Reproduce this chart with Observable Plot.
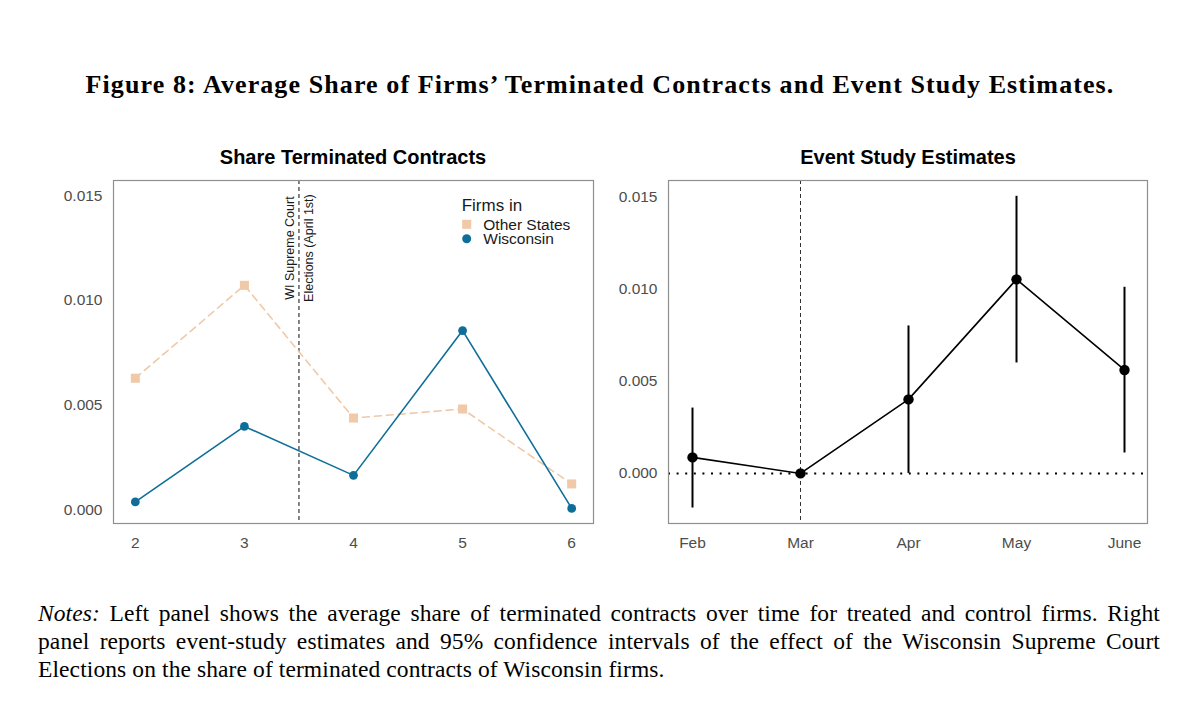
<!DOCTYPE html>
<html>
<head>
<meta charset="utf-8">
<script src="https://cdn.jsdelivr.net/npm/d3@7"></script>
<script src="https://cdn.jsdelivr.net/npm/@observablehq/plot@0.6"></script>
<style>
  body { margin: 0; background: #fff; }
  #page { position: relative; width: 1200px; height: 723px; overflow: hidden; background: #fff; }
  .fig-title { position: absolute; left: 0; top: 72px; width: 1200px; text-align: center;
    font-family: "Liberation Serif", serif; font-weight: bold; font-size: 26px; line-height: 26px;
    letter-spacing: 1.1px; white-space: nowrap; }
  .panel-title { position: absolute; top: 147px; width: 480px; text-align: center;
    font-family: "Liberation Sans", Arial, sans-serif; font-weight: bold; font-size: 20px; line-height: 20px; color: #000; }
  .panel { position: absolute; top: 130px; }
  .notes { position: absolute; left: 38px; top: 599px; width: 1122px;
    font-family: "Liberation Serif", serif; font-size: 23.5px; line-height: 28px; letter-spacing: 0.1px; color: #000; }
  .notes div { text-align: justify; text-align-last: justify; white-space: nowrap; }
  .notes div.last { text-align-last: left; }
  #legend { position: absolute; left: 0; top: 0; pointer-events: none; }
</style>
</head>
<body>
<div id="page">
  <div class="fig-title">Figure 8: Average Share of Firms’ Terminated Contracts and Event Study Estimates.</div>
  <div class="panel-title" style="left:113px">Share Terminated Contracts</div>
  <div class="panel-title" style="left:668px">Event Study Estimates</div>
  <div class="panel" id="left" style="left:0"></div>
  <div class="panel" id="right" style="left:600px"></div>
  <svg id="legend" width="1200" height="723"></svg>
  <div class="notes">
    <div><i>Notes:</i> Left panel shows the average share of terminated contracts over time for treated and control firms. Right</div>
    <div>panel reports event-study estimates and 95% confidence intervals of the effect of the Wisconsin Supreme Court</div>
    <div class="last">Elections on the share of terminated contracts of Wisconsin firms.</div>
  </div>
</div>
<script>
// ---- Left panel: average share of terminated contracts by period ----
const periods = [2, 3, 4, 5, 6];
const otherStates = [0.00628, 0.01072, 0.00438, 0.00481, 0.00123];
const wisconsin = [0.00037, 0.00398, 0.00164, 0.00856, 0.00006];
const seriesNames = ["Other States", "Wisconsin"];
const seriesColors = ["#EFC9A8", "#0F6E99"];
const electionPeriod = 3.5;
const electionLabel = "WI Supreme Court\nElections (April 1st)";
const electionLabelY = 0.0125;
const leftYDomain = [-0.00066, 0.01573];

// ---- Right panel: event-study estimates with 95% CIs ----
const months = ["Feb", "Mar", "Apr", "May", "June"];
const estimates = [0.00087, 0, 0.00402, 0.01054, 0.00562];
const ciLow = [-0.00188, null, 0, 0.0060, 0.00111];
const ciHigh = [0.00355, null, 0.00801, 0.01505, 0.01011];
const referenceMonth = "Mar";
const rightYDomain = [-0.00272, 0.01591];

const yTicks = [0, 0.005, 0.010, 0.015];
const fmt = d3.format(".3f");

const tickColor = "#4d4d4d";
const frameColor = "#8f8f8f";
const tickFont = 15.5;
const font = "'Liberation Sans', Arial, sans-serif";

// tidy rows for the marks
const other = periods.map((p, i) => ({period: p, share: otherStates[i]}));
const wisc = periods.map((p, i) => ({period: p, share: wisconsin[i]}));
const est = months.map((m, i) => ({month: m, est: estimates[i], lo: ciLow[i], hi: ciHigh[i]}));
const ci = est.filter(d => d.lo != null && d.hi != null);

const leftPlot = Plot.plot({
  width: 600, height: 430,
  marginLeft: 113, marginRight: 7, marginTop: 50, marginBottom: 37,
  style: {fontFamily: font, background: "transparent"},
  x: {type: "linear", domain: [1.8, 6.2], label: null},
  y: {domain: leftYDomain, label: null},
  marks: [
    Plot.ruleX([electionPeriod], {stroke: "#444", strokeWidth: 1.3, strokeDasharray: "4,3"}),
    Plot.text([electionPeriod], {
      x: d => d, y: () => electionLabelY, text: () => electionLabel,
      rotate: -90, fontSize: 12.5, lineHeight: 1.5, fill: "#1a1a1a", textAnchor: "middle", dx: -1.5
    }),
    Plot.line(other, {x: "period", y: "share", stroke: seriesColors[0], strokeWidth: 1.6, strokeDasharray: "7,5"}),
    Plot.dot(other, {x: "period", y: "share", symbol: "square", r: 5.1, fill: seriesColors[0], stroke: "none"}),
    Plot.line(wisc, {x: "period", y: "share", stroke: seriesColors[1], strokeWidth: 1.6}),
    Plot.dot(wisc, {x: "period", y: "share", r: 4.4, fill: seriesColors[1], stroke: "none"}),
    Plot.axisY({ticks: yTicks, tickFormat: fmt, tickSize: 0, tickPadding: 11, fontSize: tickFont, color: tickColor, label: null}),
    Plot.axisX({ticks: periods, tickFormat: d3.format("d"), tickSize: 0, tickPadding: 13, fontSize: tickFont, color: tickColor, label: null}),
    Plot.frame({stroke: frameColor, strokeWidth: 1.2})
  ]
});
document.getElementById("left").appendChild(leftPlot);

const rightPlot = Plot.plot({
  width: 600, height: 430,
  marginLeft: 68, marginRight: 53, marginTop: 50, marginBottom: 37,
  style: {fontFamily: font, background: "transparent"},
  x: {type: "point", domain: months, padding: 0.2, label: null},
  y: {domain: rightYDomain, label: null},
  marks: [
    Plot.ruleY([0], {stroke: "#000", strokeWidth: 2, strokeDasharray: "2,6.6"}),
    Plot.ruleX([referenceMonth], {stroke: "#333", strokeWidth: 1, strokeDasharray: "4,3"}),
    Plot.ruleX(ci, {x: "month", y1: "lo", y2: "hi", stroke: "#000", strokeWidth: 2}),
    Plot.line(est, {x: "month", y: "est", stroke: "#000", strokeWidth: 1.6}),
    Plot.dot(est, {x: "month", y: "est", r: 5.2, fill: "#000", stroke: "none"}),
    Plot.axisY({ticks: yTicks, tickFormat: fmt, tickSize: 0, tickPadding: 11, fontSize: tickFont, color: tickColor, label: null}),
    Plot.axisX({tickSize: 0, tickPadding: 13, fontSize: tickFont, color: tickColor, label: null}),
    Plot.frame({stroke: frameColor, strokeWidth: 1.2})
  ]
});
document.getElementById("right").appendChild(rightPlot);

// ---- Legend for the left panel ----
const legend = d3.select("#legend");
legend.append("text").attr("x", 461.7).attr("y", 210.7)
  .attr("font-family", font).attr("font-size", 17).attr("fill", "#1a1a1a").text("Firms in");
seriesNames.forEach((name, i) => {
  const cy = 224.3 + i * 14.4;
  if (i === 0) {
    legend.append("rect").attr("x", 462.2).attr("y", cy - 4.5).attr("width", 9).attr("height", 9).attr("fill", seriesColors[i]);
  } else {
    legend.append("circle").attr("cx", 466.7).attr("cy", cy).attr("r", 4.5).attr("fill", seriesColors[i]);
  }
  legend.append("text").attr("x", 483.3).attr("y", cy + 5.4)
    .attr("font-family", font).attr("font-size", 15.5).attr("fill", "#1a1a1a").text(name);
});
</script>
</body>
</html>
